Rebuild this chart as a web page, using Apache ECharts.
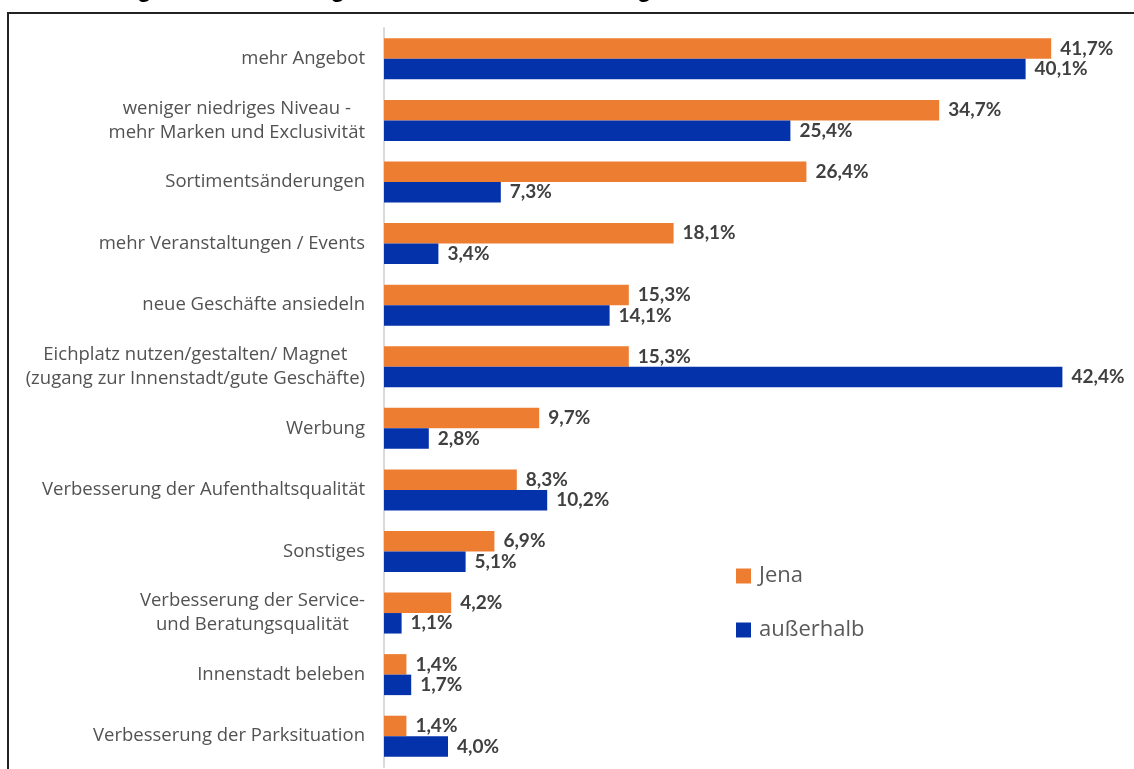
<!DOCTYPE html>
<html>
<head>
<meta charset="utf-8">
<script src="https://cdn.jsdelivr.net/npm/echarts@6/dist/echarts.min.js"></script>
<style>
  html, body { margin: 0; padding: 0; background: #ffffff; }
  #chart { width: 1134px; height: 769px; }
</style>
</head>
<body>
<div id="chart"></div>
<script>
// Vorschläge zur Stärkung der Innenstadt – Anteile der Nennungen in %
const categories = [
  'mehr Angebot',
  'weniger niedriges Niveau -\nmehr Marken und Exclusivität',
  'Sortimentsänderungen',
  'mehr Veranstaltungen / Events',
  'neue Geschäfte ansiedeln',
  'Eichplatz nutzen/gestalten/ Magnet\n(zugang zur Innenstadt/gute Geschäfte)',
  'Werbung',
  'Verbesserung der Aufenthaltsqualität',
  'Sonstiges',
  'Verbesserung der Service-\nund Beratungsqualität',
  'Innenstadt beleben',
  'Verbesserung der Parksituation'
];
const seriesNames = ['Jena', 'außerhalb'];
const jena       = [41.7, 34.7, 26.4, 18.1, 15.3, 15.3, 9.7, 8.3, 6.9, 4.2, 1.4, 1.4];
const ausserhalb = [40.1, 25.4, 7.3, 3.4, 14.1, 42.4, 2.8, 10.2, 5.1, 1.1, 1.7, 4.0];
const titleText = 'Abbildung 8: Verbesserungswünsche für die Stärkung der Innenstadt';

const fmtPct = v => v.toFixed(1).replace('.', ',') + '%';
const catFont = '"Open Sans", Lato, sans-serif';
const valFont = 'Lato, "Open Sans", sans-serif';

const chart = echarts.init(document.getElementById('chart'), null, { renderer: 'canvas' });

const valueLabel = {
  show: true,
  position: 'right',
  distance: 9,
  color: '#404040',
  fontFamily: valFont,
  fontWeight: 'bold',
  fontSize: 19,
  formatter: p => fmtPct(p.value)
};

chart.setOption({
  backgroundColor: '#ffffff',
  animation: false,
  graphic: [
    {
      type: 'rect',
      shape: { x: 8, y: 13, width: 1200, height: 800 },
      style: { fill: 'none', stroke: '#222222', lineWidth: 2 },
      silent: true
    },
    {
      type: 'text',
      left: 33,
      top: -22,
      style: {
        text: titleText,
        font: 'bold 24px "Liberation Sans", Arial, sans-serif',
        fill: '#000000'
      },
      silent: true
    }
  ],
  legend: {
    data: seriesNames,
    orient: 'vertical',
    left: 736,
    top: 565,
    padding: 0,
    itemWidth: 15,
    itemHeight: 15,
    itemGap: 32,
    icon: 'rect',
    textStyle: {
      color: '#595959',
      fontFamily: catFont,
      fontSize: 22,
      padding: [2, 0, 0, 3]
    }
  },
  grid: {
    left: 384,
    right: 30,
    top: 28,
    bottom: 2,
    containLabel: false
  },
  xAxis: {
    type: 'value',
    min: 0,
    max: 45,
    show: false
  },
  yAxis: {
    type: 'category',
    data: categories,
    inverse: true,
    axisLine: { show: true, lineStyle: { color: '#d9d9d9', width: 2 } },
    axisTick: { show: false },
    splitLine: { show: false },
    axisLabel: {
      margin: 19,
      color: '#525252',
      fontFamily: catFont,
      fontSize: 18.5,
      formatter: v => v.split('\n').map(l => '{c|' + l + '}').join('\n'),
      rich: {
        c: {
          align: 'center',
          color: '#525252',
          fontFamily: catFont,
          fontSize: 18.5,
          lineHeight: 24
        }
      }
    }
  },
  series: [
    {
      name: seriesNames[0],
      type: 'bar',
      data: jena,
      barWidth: 20.5,
      barGap: '0%',
      itemStyle: { color: '#ED7D31' },
      label: valueLabel
    },
    {
      name: seriesNames[1],
      type: 'bar',
      data: ausserhalb,
      barWidth: 20.5,
      barGap: '0%',
      itemStyle: { color: '#0432AA' },
      label: valueLabel
    }
  ]
});
</script>
</body>
</html>
